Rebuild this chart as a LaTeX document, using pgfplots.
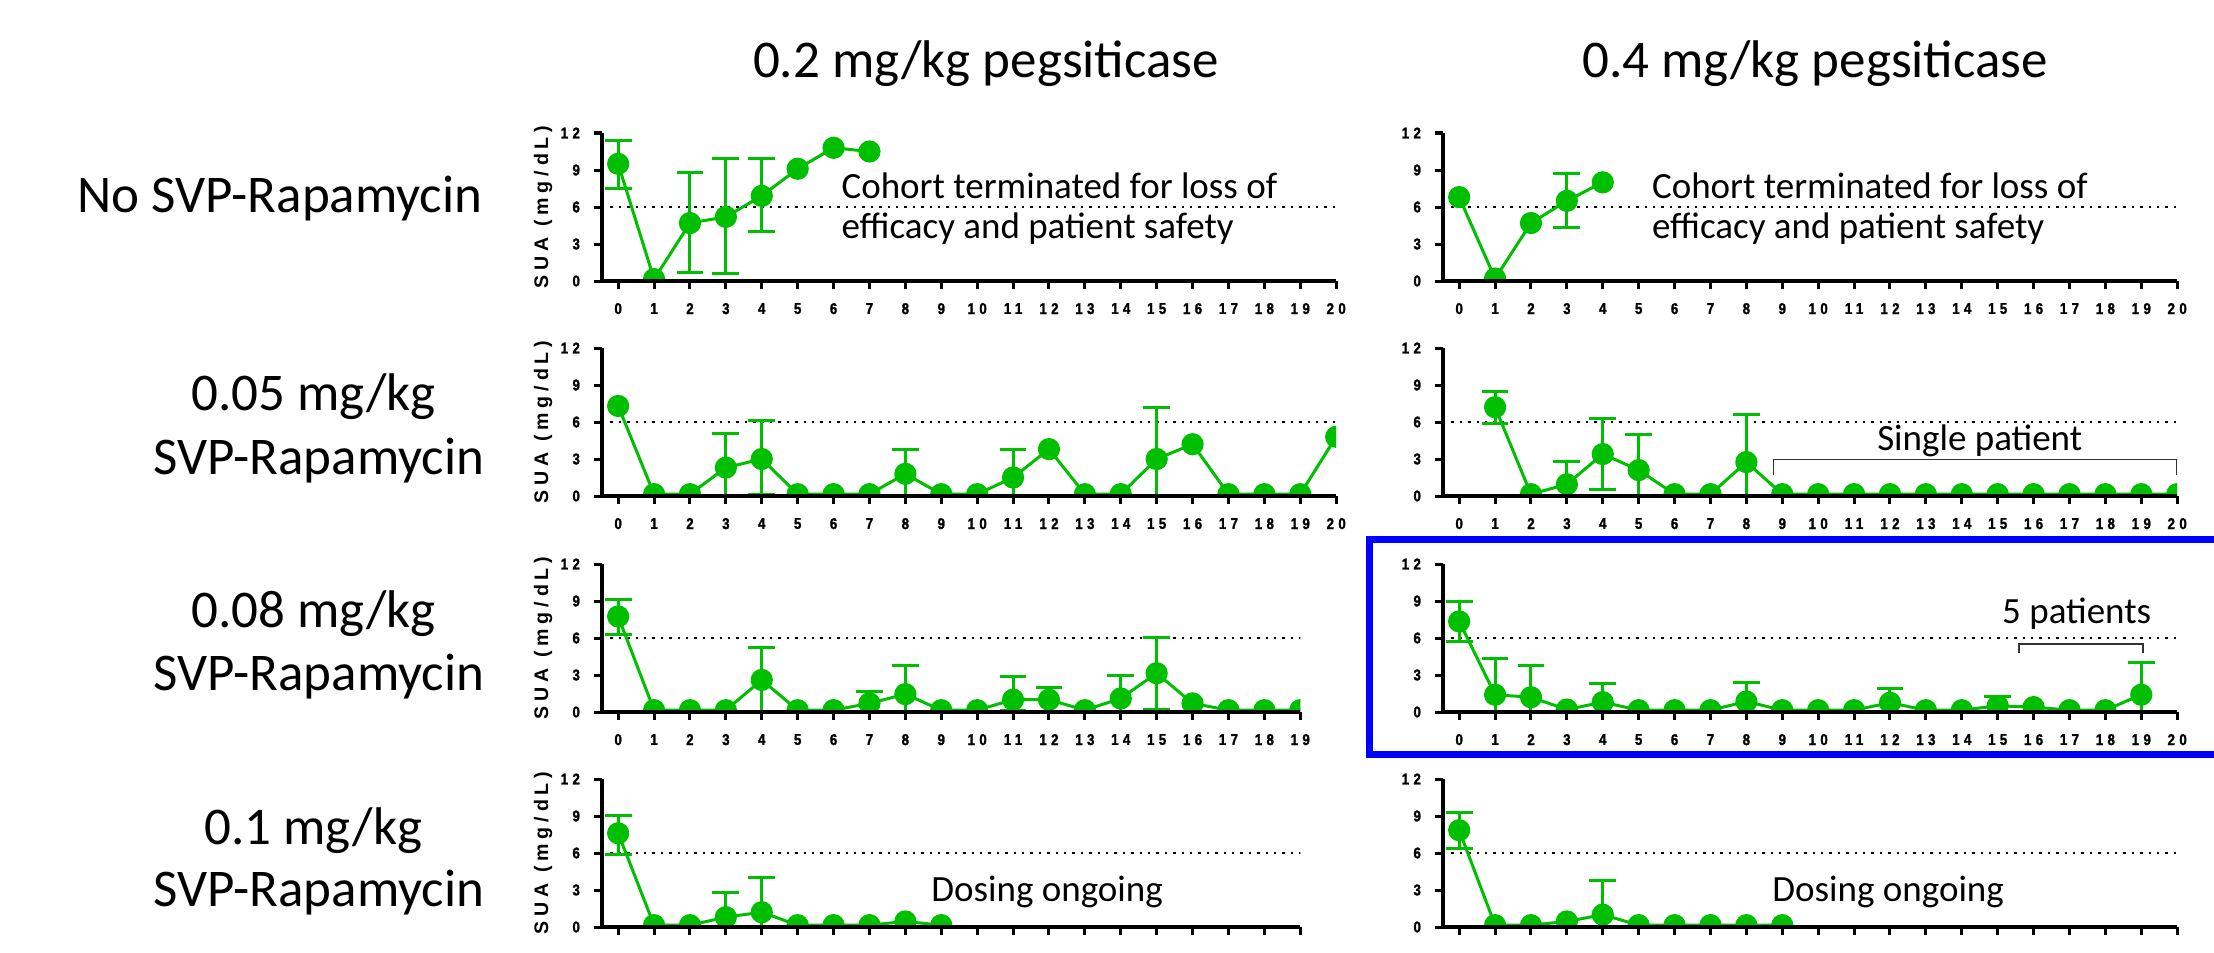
\documentclass[border=0pt]{standalone}
\usepackage{fontspec}
\usepackage{pgfplots}
\usepackage{pgfplotstable}
\pgfplotsset{compat=1.18}
\setmainfont{Carlito}
\newfontfamily\tickf[LetterSpace=28,FakeStretch=0.85,FakeBold=1.5]{Liberation Sans}
\newfontfamily\labf[LetterSpace=25]{Liberation Sans}
\definecolor{pg}{RGB}{0,190,0}
\newcommand\annf{\fontsize{9.25}{10}\selectfont}
\newcommand\bigf{\fontsize{13.25}{15}\selectfont}

\pgfplotsset{
  panel/.style={
    scale only axis, width=183.54pt, height=37pt,
    xmin=-0.45, xmax=20, ymin=0, ymax=12,
    axis x line=bottom, axis y line=left,
    axis line style={-, line width=0.9pt, black},
    xtick={0,...,20}, ytick={0,3,6,9,12},
    tick align=outside, major tick length=2pt,
    tick style={line width=0.75pt, black},
    ticklabel style={font=\tickf\bfseries\fontsize{3.9}{4.5}\selectfont},
    /pgf/number format/assume math mode=true,
    anchor=south west, axis on top, clip marker paths=true,
  },
  short/.style={width=174.56pt, xmax=19, xtick={0,...,19}},
  ser/.style={pg, line width=0.75pt, mark=*, mark size=2.4pt, mark options={pg, solid}},
  errs/.style={only marks, mark=none, pg,
    error bars/.cd, y dir=both, y explicit,
    error bar style={line width=0.75pt, pg},
    error mark options={rotate=90, pg, line width=0.75pt, mark size=3.35pt}},
}
\newcommand\sixline{\draw[black, line width=0.6pt, dash pattern=on 0.6pt off 1.5pt] (axis cs:-0.45,6) -- (axis cs:20,6);}

% ---------- data ----------
\pgfplotstableread{
x y
0 9.5
1 0.15
2 4.7
3 5.2
4 6.9
5 9.1
6 10.8
7 10.5
}\LoneL
\pgfplotstableread{
x y ep em
0 9.5 1.9 2.0
2 4.7 4.1 4.0
3 5.2 4.7 4.6
4 6.9 3.0 2.9
}\LoneE
\pgfplotstableread{
x y
0 6.8
1 0.2
2 4.7
3 6.5
4 8.0
}\RoneL
\pgfplotstableread{
x y ep em
3 6.5 2.25 2.2
}\RoneE
\pgfplotstableread{
x y
0 7.3
1 0.15
2 0.15
3 2.3
4 3.0
5 0.15
6 0.15
7 0.15
8 1.8
9 0.15
10 0.15
11 1.5
12 3.8
13 0.15
14 0.15
15 3.0
16 4.2
17 0.15
18 0.15
19 0.15
20 4.8
}\LtwoL
\pgfplotstableread{
x y ep em
3 2.3 2.8 2.3
4 3.0 3.1 2.9
8 1.8 2.0 1.8
11 1.5 2.3 1.5
15 3.0 4.2 3.0
}\LtwoE
\pgfplotstableread{
x y
1 7.2
2 0.15
3 0.95
4 3.4
5 2.1
6 0.15
7 0.15
8 2.75
9 0.15
10 0.15
11 0.15
12 0.15
13 0.15
14 0.15
15 0.15
16 0.15
17 0.15
18 0.15
19 0.15
20 0.15
}\RtwoL
\pgfplotstableread{
x y ep em
1 7.2 1.3 1.3
3 0.95 1.85 0.95
4 3.4 2.9 2.9
5 2.1 2.9 2.1
8 2.75 3.85 2.75
}\RtwoE
\pgfplotstableread{
x y
0 7.75
1 0.15
2 0.15
3 0.15
4 2.6
5 0.15
6 0.15
7 0.7
8 1.45
9 0.15
10 0.15
11 1.0
12 1.0
13 0.15
14 1.1
15 3.15
16 0.7
17 0.15
18 0.15
19 0.15
}\LthreeL
\pgfplotstableread{
x y ep em
0 7.75 1.4 1.5
4 2.6 2.6 2.6
7 0.7 0.95 0.7
8 1.45 2.35 1.45
11 1.0 1.9 0.9
12 1.0 0.95 1.0
14 1.1 1.85 1.1
15 3.15 2.9 2.95
}\LthreeE
\pgfplotstableread{
x y
0 7.35
1 1.4
2 1.2
3 0.2
4 0.8
5 0.15
6 0.15
7 0.15
8 0.85
9 0.15
10 0.15
11 0.15
12 0.75
13 0.15
14 0.15
15 0.5
16 0.4
17 0.15
18 0.15
19 1.4
}\RthreeL
\pgfplotstableread{
x y ep em
0 7.35 1.6 1.65
1 1.4 2.9 1.4
2 1.2 2.55 1.2
4 0.8 1.55 0.8
8 0.85 1.55 0.85
12 0.75 1.15 0.75
15 0.5 0.75 0.5
19 1.4 2.6 1.4
}\RthreeE
\pgfplotstableread{
x y
0 7.6
1 0.15
2 0.15
3 0.8
4 1.2
5 0.15
6 0.15
7 0.15
8 0.45
9 0.15
}\LfourL
\pgfplotstableread{
x y ep em
0 7.6 1.45 1.7
3 0.8 2.0 0.8
4 1.2 2.8 1.2
}\LfourE
\pgfplotstableread{
x y
0 7.85
1 0.15
2 0.15
3 0.45
4 1.0
5 0.15
6 0.15
7 0.15
8 0.15
9 0.15
}\RfourL
\pgfplotstableread{
x y ep em
0 7.85 1.45 1.45
4 1.0 2.8 1.0
}\RfourE

\begin{document}
\begin{tikzpicture}
\useasboundingbox (0pt,0pt) rectangle (553.5pt,-238pt);

% titles
\node[anchor=base, font=\bigf] at (246.5pt,-19.5pt) {0.2 mg/kg pegsiticase};
\node[anchor=base, font=\bigf] at (453.75pt,-19.5pt) {0.4 mg/kg pegsiticase};

% row labels
\node[anchor=base, font=\bigf] at (70pt,-53.2pt) {No SVP-Rapamycin};
\node[anchor=base, font=\bigf] at (78.4pt,-102.5pt) {0.05 mg/kg};
\node[anchor=base, font=\bigf] at (79.75pt,-118.5pt) {SVP-Rapamycin};
\node[anchor=base, font=\bigf] at (78.4pt,-156.75pt) {0.08 mg/kg};
\node[anchor=base, font=\bigf] at (79.75pt,-172.5pt) {SVP-Rapamycin};
\node[anchor=base, font=\bigf] at (78.3pt,-211pt) {0.1 mg/kg};
\node[anchor=base, font=\bigf] at (79.75pt,-226.5pt) {SVP-Rapamycin};

% y labels
\foreach \yy in {-51.75pt,-105.5pt,-159.5pt,-213.25pt}{
  \node[rotate=90, font=\labf\bfseries\fontsize{4.9}{5}\selectfont] at (135.75pt,\yy) {SUA (mg/dL)};
}

% ---- row 1 ----
\begin{axis}[panel, at={(150.5pt,-70.25pt)}]
\sixline
\addplot[errs] table[x=x,y=y,y error plus=ep,y error minus=em]{\LoneE};
\addplot[ser] table[x=x,y=y]{\LoneL};
\node[anchor=base west, inner sep=0pt, font=\annf] at (axis cs:6.2,6.7) {Cohort terminated for loss of};
\node[anchor=base west, inner sep=0pt, font=\annf] at (axis cs:6.2,3.45) {efficacy and patient safety};
\end{axis}
\begin{axis}[panel, at={(360.75pt,-70.25pt)}]
\sixline
\addplot[errs] table[x=x,y=y,y error plus=ep,y error minus=em]{\RoneE};
\addplot[ser] table[x=x,y=y]{\RoneL};
\node[anchor=base west, inner sep=0pt, font=\annf] at (axis cs:5.35,6.7) {Cohort terminated for loss of};
\node[anchor=base west, inner sep=0pt, font=\annf] at (axis cs:5.35,3.45) {efficacy and patient safety};
\end{axis}

% ---- row 2 ----
\begin{axis}[panel, at={(150.5pt,-124pt)}]
\sixline
\addplot[errs] table[x=x,y=y,y error plus=ep,y error minus=em]{\LtwoE};
\addplot[ser] table[x=x,y=y]{\LtwoL};
\end{axis}
\begin{axis}[panel, at={(360.75pt,-124pt)}]
\sixline
\addplot[errs] table[x=x,y=y,y error plus=ep,y error minus=em]{\RtwoE};
\addplot[ser] table[x=x,y=y]{\RtwoL};
\draw[black!80, line width=0.4pt] (axis cs:8.75,1.7) -- (axis cs:8.75,2.95) -- (axis cs:19.98,2.95) -- (axis cs:19.98,1.7);
\node[anchor=base, font=\annf] at (axis cs:14.5,3.7) {Single patient};
\end{axis}

% ---- row 3 ----
\begin{axis}[panel, short, at={(150.5pt,-178pt)}]
\sixline
\addplot[errs] table[x=x,y=y,y error plus=ep,y error minus=em]{\LthreeE};
\addplot[ser] table[x=x,y=y]{\LthreeL};
\end{axis}
\begin{axis}[panel, at={(360.75pt,-178pt)}]
\sixline
\addplot[errs] table[x=x,y=y,y error plus=ep,y error minus=em]{\RthreeE};
\addplot[ser] table[x=x,y=y]{\RthreeL};
\draw[black!80, line width=0.4pt] (axis cs:15.6,4.8) -- (axis cs:15.6,5.5) -- (axis cs:19.05,5.5) -- (axis cs:19.05,4.8);
\node[anchor=base, font=\annf] at (axis cs:17.2,7.2) {5 patients};
\end{axis}

% ---- row 4 ----
\begin{axis}[panel, short, at={(150.5pt,-231.75pt)}, xticklabels={}]
\sixline
\addplot[errs] table[x=x,y=y,y error plus=ep,y error minus=em]{\LfourE};
\addplot[ser] table[x=x,y=y]{\LfourL};
\node[anchor=base, font=\annf] at (axis cs:11.95,2.05) {Dosing ongoing};
\end{axis}
\begin{axis}[panel, at={(360.75pt,-231.75pt)}, xticklabels={}]
\sixline
\addplot[errs] table[x=x,y=y,y error plus=ep,y error minus=em]{\RfourE};
\addplot[ser] table[x=x,y=y]{\RfourL};
\node[anchor=base, font=\annf] at (axis cs:11.95,2.05) {Dosing ongoing};
\end{axis}

% blue highlight box
\draw[blue, line width=1.75pt] (560pt,-134.75pt) -- (342.25pt,-134.75pt) -- (342.25pt,-188.5pt) -- (560pt,-188.5pt);
\end{tikzpicture}
\end{document}
